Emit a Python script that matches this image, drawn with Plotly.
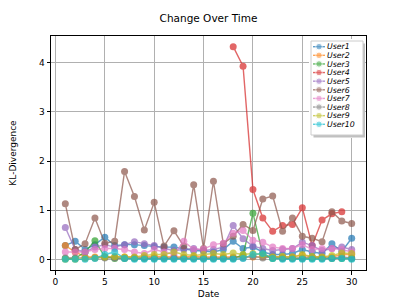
import plotly.graph_objects as go

dates = list(range(1, 31))
N = None

user1 = [0.28, 0.37, 0.20, 0.30, 0.45, 0.28, 0.30, 0.30, 0.28, 0.26, 0.25, 0.25, 0.22, 0.18, 0.17, 0.15, 0.20, 0.37, 0.22, 0.25, 0.15, 0.10, 0.10, 0.12, 0.20, 0.15, 0.12, 0.32, 0.16, 0.43]
user2 = [0.28, 0.15, 0.05, 0.05, 0.05, 0.05, 0.05, 0.04, 0.05, 0.06, 0.05, 0.05, 0.05, 0.06, 0.05, 0.05, 0.06, 0.05, 0.05, 0.05, 0.05, 0.05, 0.05, 0.05, 0.08, 0.05, 0.05, 0.05, 0.10, 0.10]
user3 = [0.02, 0.02, 0.15, 0.38, 0.05, 0.02, 0.02, 0.02, 0.02, 0.02, 0.02, 0.02, 0.02, 0.02, 0.02, 0.02, 0.02, 0.02, 0.09, 0.94, 0.10, 0.02, 0.02, 0.02, 0.02, 0.02, 0.02, 0.02, 0.02, 0.02]
user4 = [N] * 17 + [4.33, 3.93, 1.42, 0.84, 0.57, 0.69, 0.71, 1.05, 0.28, 0.80, 0.93, 0.97, N]
user5 = [0.65, 0.20, 0.15, 0.25, 0.30, 0.25, 0.30, 0.36, 0.32, 0.28, 0.22, 0.18, 0.20, 0.22, 0.18, 0.20, 0.25, 0.69, 0.42, 0.27, 0.22, 0.18, 0.20, 0.22, 0.35, 0.28, 0.18, 0.22, 0.25, 0.20]
user6 = [1.13, 0.20, 0.32, 0.84, 0.33, 0.37, 1.79, 1.28, 0.60, 1.16, 0.27, 0.58, 0.27, 1.52, 0.22, 1.59, 0.32, 0.47, 0.71, 0.59, 1.23, 1.29, 0.57, 0.84, 0.47, 0.43, 0.36, 0.97, 0.78, 0.73]
user7 = [0.15, 0.15, 0.15, 0.20, 0.22, 0.22, 0.20, 0.15, 0.12, 0.20, 0.15, 0.10, 0.37, 0.20, 0.21, 0.30, 0.33, 0.53, 0.59, 0.39, 0.35, 0.25, 0.22, 0.22, 0.30, 0.20, 0.22, 0.22, 0.20, 0.15]
user8 = [0.03, 0.03, 0.03, 0.03, 0.03, 0.03, 0.03, 0.03, 0.03, 0.03, 0.03, 0.03, 0.03, 0.03, 0.03, 0.03, 0.03, 0.03, 0.03, 0.06, 0.03, 0.05, 0.03, 0.03, 0.03, 0.05, 0.03, 0.03, 0.05, 0.03]
user9 = [0.00, 0.00, 0.02, 0.03, 0.05, 0.06, 0.05, 0.05, 0.08, 0.10, 0.10, 0.15, 0.10, 0.08, 0.10, 0.12, 0.10, 0.13, 0.10, 0.12, 0.10, 0.05, 0.06, 0.05, 0.10, 0.06, 0.05, 0.08, 0.13, 0.12]
user10 = [0.00, 0.00, 0.00, 0.02, 0.10, 0.15, 0.02, 0.00, 0.00, 0.00, 0.00, 0.00, 0.00, 0.00, 0.00, 0.00, 0.00, 0.00, 0.02, 0.10, 0.12, 0.02, 0.00, 0.00, 0.00, 0.00, 0.00, 0.02, 0.02, 0.00]

names = ["User1", "User2", "User3", "User4", "User5", "User6", "User7", "User8", "User9", "User10"]
values = [user1, user2, user3, user4, user5, user6, user7, user8, user9, user10]
colors = ["#1f77b4", "#ff7f0e", "#2ca02c", "#d62728", "#9467bd",
          "#8c564b", "#e377c2", "#7f7f7f", "#bcbd22", "#17becf"]

FONT = "DejaVu Sans"
OFF = 8  # page body margin
W, H = 407 - OFF, 305 - OFF
# plot frame in screen pixels
FX0, FX1, FY0, FY1 = 51, 366, 36, 270
ML, MR, MT, MB = FX0 - OFF, W - (FX1 - OFF), FY0 - OFF, H - (FY1 - OFF)
PW, PH = W - ML - MR, H - MT - MB

def px_x(p):
    return (p - FX0) / PW

def px_y(p):
    return (FY1 - p) / PH

fig = go.Figure()
for name, vals, col in zip(names, values, colors):
    fig.add_trace(go.Scatter(
        x=dates, y=vals, name=name, mode="lines+markers",
        line=dict(color=col, width=1.4),
        marker=dict(color=col, size=7),
        opacity=0.7, showlegend=False,
    ))

# legend drawn in its own small overlay frame (units = screen pixels)
LX0, LX1, LY0, LY1 = 309, 365, 39, 138
BOX = (311, 363, 41, 135)
SH = 2.5
row_y0, row_step = 46.7, 8.62
for i, (name, col) in enumerate(zip(names, colors)):
    yy = row_y0 + row_step * i
    fig.add_trace(go.Scatter(
        x=[313, 319, 325], y=[yy, yy, yy], mode="lines+markers",
        line=dict(color=col, width=1.4), marker=dict(color=col, size=[0, 6.5, 0]),
        opacity=0.7, showlegend=False, hoverinfo="skip",
        xaxis="x2", yaxis="y2",
    ))

annotations = []
for i, name in enumerate(names):
    yy = row_y0 + row_step * i
    annotations.append(dict(
        x=326.3, y=yy + 0.3, xref="x2", yref="y2", text=name, showarrow=False,
        xanchor="left", yanchor="middle", borderpad=0,
        font=dict(family=FONT, size=7.8, color="black", style="italic"),
    ))

shapes = [
    dict(type="rect", xref="x2", yref="y2",
         x0=BOX[0] + SH, x1=BOX[1] + SH, y0=BOX[2] + SH, y1=BOX[3] + SH,
         fillcolor="rgba(140,140,140,0.55)", line=dict(width=0), layer="below"),
    dict(type="rect", xref="x2", yref="y2",
         x0=BOX[0], x1=BOX[1], y0=BOX[2], y1=BOX[3],
         fillcolor="white", line=dict(color="#cccccc", width=1), layer="below"),
]

axis_common = dict(
    showline=True, linecolor="black", linewidth=1, mirror=True,
    ticks="outside", ticklen=3.5, tickcolor="black",
    showgrid=True, gridcolor="#b0b0b0", gridwidth=0.8,
    zeroline=False, automargin=False,
    tickfont=dict(family=FONT, size=9, color="black"),
)

fig.update_layout(
    width=W, height=H,
    margin=dict(l=ML, r=MR, t=MT, b=MB, autoexpand=False),
    paper_bgcolor="white", plot_bgcolor="white",
    showlegend=False,
    title=dict(text="Change Over Time", x=0.5, xref="paper", xanchor="center",
               y=1 - 10.5 / H, yref="container", yanchor="middle",
               font=dict(family=FONT, size=10.5, color="black")),
    xaxis=dict(range=[-0.45, 31.45], tickvals=[0, 5, 10, 15, 20, 25, 30],
               title=dict(text="Date", font=dict(family=FONT, size=9, color="black"), standoff=4),
               **axis_common),
    yaxis=dict(range=[-0.2165, 4.5465], tickvals=[0, 1, 2, 3, 4],
               title=dict(text="KL-Divergence", font=dict(family=FONT, size=9, color="black"), standoff=27),
               **axis_common),
    xaxis2=dict(domain=[px_x(LX0), px_x(LX1)], range=[LX0, LX1], visible=False,
                anchor="y2", fixedrange=True),
    yaxis2=dict(domain=[px_y(LY1), px_y(LY0)], range=[LY1, LY0], visible=False,
                anchor="x2", fixedrange=True),
    shapes=shapes,
    annotations=annotations,
)

fig.write_html("out.html")
